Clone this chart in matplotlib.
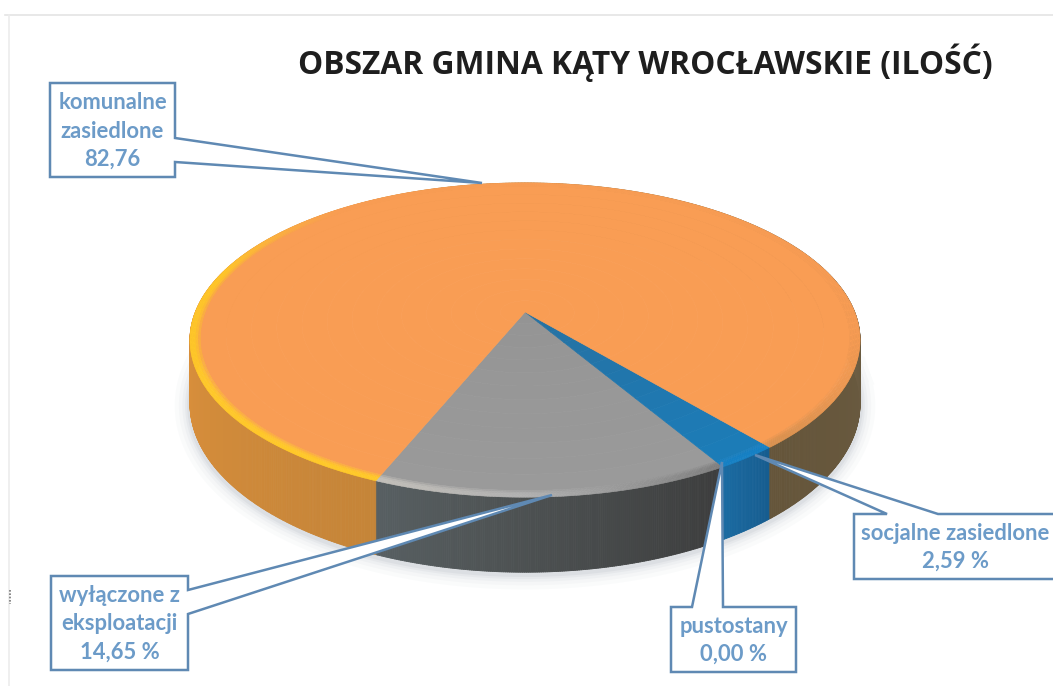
import numpy as np
import matplotlib
matplotlib.use('Agg')
import matplotlib.pyplot as plt
from matplotlib.collections import PolyCollection
from matplotlib.colors import to_rgb

# chart data, order as it runs round the pie from the left end of the grey slice
names = ['wyłączone z\neksploatacji', 'socjalne zasiedlone', 'pustostany', 'komunalne\nzasiedlone']
values = [14.65, 2.59, 0.00, 82.76]
value_labels = ['14,65 %', '2,59 %', '0,00 %', '82,76']
title = 'OBSZAR GMINA KĄTY WROCŁAWSKIE (ILOŚĆ)'

START = 247.8
CX, CY = 525, 312
D, FX, FY = 5.6, 1846, 852   # perspective of the disc
DEPTH = 345

# degrees -> colour, top centre / top edge / rim / side
shades = [
    {'c': '#949494', 'e': '#9a9a9a', 'rim': [(240, '#c8c4bc'), (270, '#b0b0b0'), (305, '#767676')],
     'side': [(240, '#5b6468'), (265, '#4f5455'), (305, '#3a3a3a')]},
    {'c': '#27709f', 'e': '#1c7cb8', 'rim': [(300, '#1580c4'), (312, '#1580c4')],
     'side': [(300, '#1b6ca3'), (312, '#15588a')]},
    {'c': '#27709f', 'e': '#1c7cb8', 'rim': [(300, '#1580c4')], 'side': [(300, '#1c6fa6')]},
    {'c': '#f99d54', 'e': '#f99d54',
     'rim': [(310, '#d8904e'), (335, '#ee9851'), (355, '#f99d54'), (490, '#f99d54'), (525, '#ffc62a'), (610, '#ffc828')],
     'side': [(310, '#65553a'), (350, '#695a40'), (375, '#736248'), (490, '#e8983f'), (540, '#dd913c'), (610, '#c48438')]},
]

# callouts: box left, top, right, bottom, pointer points, text centre y
boxes = [
    (51, 576, 188, 670, [(188, 590), (552, 495), (188, 614)], 'right'),
    (854, 514, 1060, 579, [(938, 514), (755, 455), (887, 514)], 'top'),
    (671, 607, 796, 672, [(723, 607), (722, 462), (692, 607)], 'top'),
    (50, 83, 175, 177, [(175, 138), (482, 183), (175, 162)], 'right'),
]


def project(th, r=1.0):
    u, v = r * np.cos(np.radians(th)), r * np.sin(np.radians(th))
    return CX + FX * u / (D + v), CY - FY * v / (D + v)


def ramp(stops, t):
    xs = [s[0] for s in stops]
    cols = np.array([to_rgb(s[1]) for s in stops])
    return np.array([np.interp(t, xs, cols[:, i]) for i in range(3)]).T


fig = plt.figure(figsize=(10.53, 6.86), dpi=100)
ax = fig.add_axes([0, 0, 1, 1])
ax.set_xlim(0, 1053)
ax.set_ylim(686, 0)
ax.axis('off')

# scanned page edge
ax.plot([5, 1053], [15, 15], color='#e4e4e4', lw=1.2)
ax.plot([9, 9], [15, 686], color='#ececec', lw=1.2)
ax.plot([10, 10], [590, 604], color='#777777', lw=1.2, ls=(0, (1, 1)))

# soft shadow under the disc
angs = np.linspace(0, 360, 721)
x0, y0 = project(angs)
depth = DEPTH / (D + np.sin(np.radians(angs)))
for lw, a in zip([22, 16, 11, 7, 4], [0.03, 0.04, 0.05, 0.07, 0.09]):
    ax.plot(x0, y0 + depth + 2, color='#7f8c99', lw=lw, alpha=a, zorder=1)

# side wall
edges = START + np.cumsum([0] + values) * 3.6
polys, cols = [], []
for i in range(len(values)):
    if values[i] == 0:
        continue
    th = np.linspace(edges[i], edges[i + 1], max(int(values[i] * 12), 4))
    xs, ys = project(th)
    dp = DEPTH / (D + np.sin(np.radians(th)))
    c = ramp(shades[i]['side'], th)
    for k in range(len(th) - 1):
        polys.append([(xs[k], ys[k]), (xs[k + 1], ys[k + 1]), (xs[k + 1], ys[k + 1] + dp[k + 1]), (xs[k], ys[k] + dp[k])])
        cols.append(c[k])
ax.add_collection(PolyCollection(polys, facecolors=cols, edgecolors=cols, linewidths=0.6, zorder=2))

# top face, rings from the centre out
rings = np.linspace(0, 0.97, 14)
for i in range(len(values)):
    if values[i] == 0:
        continue
    th = np.linspace(edges[i], edges[i + 1], max(int(values[i] * 8), 4))
    c0, c1 = np.array(to_rgb(shades[i]['c'])), np.array(to_rgb(shades[i]['e']))
    polys, cols = [], []
    for r1, r2 in zip(rings[:-1], rings[1:]):
        xa, ya = project(th, r1)
        xb, yb = project(th[::-1], r2)
        polys.append(np.column_stack([np.r_[xa, xb], np.r_[ya, yb]]))
        cols.append(c0 + (c1 - c0) * r2)
    ax.add_collection(PolyCollection(polys, facecolors=cols, edgecolors=cols, linewidths=0.5, zorder=3))
    # bevel on the outer edge
    rr = np.linspace(0.97, 1.0, 5)
    polys, cols = [], []
    rim = ramp(shades[i]['rim'], th)
    for n in range(4):
        mix = min(1.0, (n + 1) / 2.5)
        for k in range(len(th) - 1):
            xa, ya = project(th[k:k + 2], rr[n])
            xb, yb = project(th[k:k + 2][::-1], rr[n + 1])
            polys.append(np.column_stack([np.r_[xa, xb], np.r_[ya, yb]]))
            cols.append(c1 + (rim[k] - c1) * mix)
    ax.add_collection(PolyCollection(polys, facecolors=cols, edgecolors=cols, linewidths=0.4, zorder=3))

# labels
for name, lab, b in zip(names, value_labels, boxes):
    l, t, r, bt, tip, side = b
    if side == 'right':
        pts = [(l, t), (r, t)] + tip + [(r, bt), (l, bt)]
    else:
        pts = [(l, t)] + tip[::-1] + [(r, t), (r, bt), (l, bt)]
    ax.fill(*zip(*pts), facecolor='white', edgecolor='#5f89b3', lw=1.8, joinstyle='miter', zorder=5)
    ax.text((l + min(r, 1053)) / 2 + (2 if r > 1053 else 0), (t + bt) / 2 + 1, name + '\n' + lab, ha='center', va='center',
            fontsize=15.8, fontweight='bold', family='Lato', color='#6c9bc8', linespacing=1.42, zorder=6)

ax.text(645, 63, title, ha='center', va='center', fontsize=22.9, fontweight='bold',
        family='Open Sans', color='#1e1e1e')

fig.savefig('out.png', dpi=100)
